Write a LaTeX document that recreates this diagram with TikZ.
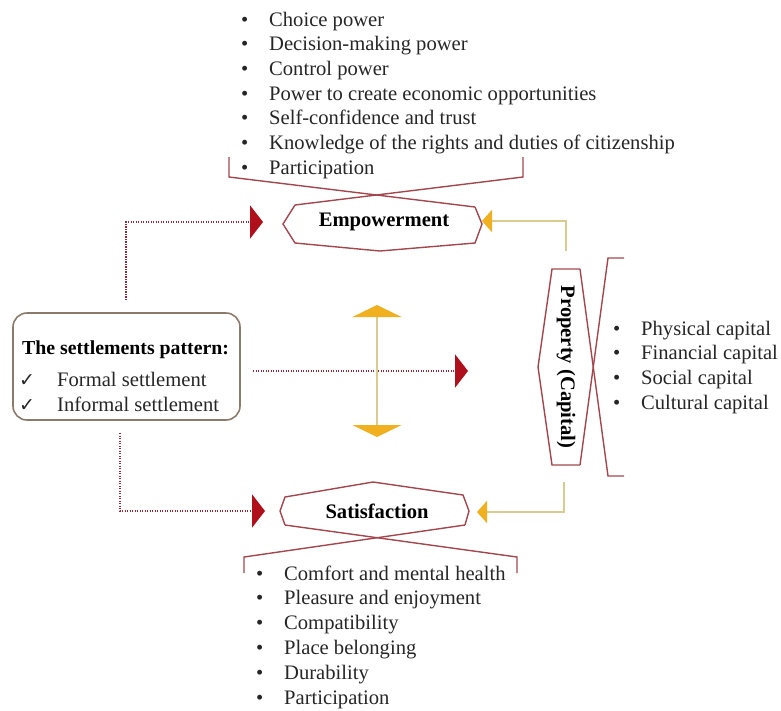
\documentclass[tikz,border=0pt]{standalone}
\usepackage{fontspec}
\setmainfont{Liberation Serif}
\newfontfamily\symfont{DejaVu Sans}
\usetikzlibrary{arrows.meta}
\definecolor{hexred}{HTML}{A5464E}
\definecolor{dotred}{HTML}{9E2436}
\definecolor{headred}{HTML}{B0101C}
\definecolor{ylline}{HTML}{DCCB8E}
\definecolor{ylhead}{HTML}{F0B020}
\definecolor{boxline}{HTML}{8C7B6B}
\definecolor{txt}{HTML}{262626}
\newcommand{\bul}{\llap{\makebox[28pt][l]{\textbullet}}}
\newcommand{\chk}{\llap{\makebox[38pt][l]{\fontsize{19}{19}\symfont ✓}}}
\begin{document}
\begin{tikzpicture}[x=1pt,y=-1pt,
  every node/.style={font=\fontsize{20.6}{24.7}\selectfont, text=txt, inner sep=0pt},
  item/.style={anchor=base west},
  label/.style={font=\fontsize{20.6}{24.7}\selectfont\bfseries, text=black},
  hexline/.style={draw=hexred, line width=1.4pt, line join=miter},
  redarrow/.style={draw=dotred, line width=2.6pt, dash pattern=on 1.4pt off 1.1pt,
     -{Triangle[length=13pt,width=33pt,color=headred]}},
  yarrow/.style={draw=ylline, line width=2.2pt,
     -{Triangle[length=10pt,width=22pt,color=ylhead]}},
  ydouble/.style={draw=ylline, line width=2.2pt,
     {Triangle[length=12pt,width=49pt,color=ylhead]}-{Triangle[length=12pt,width=49pt,color=ylhead]}},
  settlebox/.style={draw=boxline, line width=1.6pt, rounded corners=14pt}
]
\useasboundingbox (0,0) rectangle (781,710);

% ---------- top list ----------
\foreach \t [count=\i] in {Choice power, Decision-making power, Control power,
  Power to create economic opportunities, Self-confidence and trust,
  Knowledge of the rights and duties of citizenship, Participation}
  \node[item] (pw\i) at (269,{26+24.7*(\i-1)}) {\bul\t};

% ---------- bottom list ----------
\foreach \t [count=\i] in {Comfort and mental health, Pleasure and enjoyment,
  Compatibility, Place belonging, Durability, Participation}
  \node[item] (st\i) at (284,{580+24.8*(\i-1)}) {\bul\t};

% ---------- capital list ----------
\foreach \t [count=\i] in {Physical capital, Financial capital, Social capital, Cultural capital}
  \node[item] (cp\i) at (641,{335+24.8*(\i-1)}) {\bul\t};

% ---------- Empowerment ----------
\draw[hexline] (229,157) -- (229,177) -- (475,207);
\draw[hexline] (523,157) -- (523,177) -- (295,205);
\draw[hexline] (295,205) -- (283,224) -- (295,243) -- (380,251) -- (475,243) -- (482,224) -- (475,207);
\node[label] (emp) at (384,222) {Empowerment};

% ---------- Satisfaction ----------
\draw[hexline] (285,525) -- (280,511) -- (285,497) -- (373,482) -- (463,495) -- (469,511) -- (465,525);
\draw[hexline] (285,525) -- (517,557) -- (517,573);
\draw[hexline] (465,525) -- (244,557) -- (244,573);
\node[label] (sat) at (377,511) {Satisfaction};

% ---------- Property ----------
\draw[hexline] (580,269) -- (552,269) -- (538,367) -- (552,465) -- (580,465);
\draw[hexline] (580,269) -- (608,476) -- (624,476);
\draw[hexline] (580,465) -- (608,258) -- (624,258);
\node[label, rotate=-90] (prop) at (566,367) {Property (Capital)};

% ---------- settlements box ----------
\node[settlebox, minimum width=227pt, minimum height=107pt] (settle) at (126.5,366.5) {};
\node[item, font=\fontsize{19.8}{24}\selectfont\bfseries, text=black] (stitle) at (22,354) {The settlements pattern:};
\node[item] (f1) at (57,386) {\chk Formal settlement};
\node[item] (f2) at (57,411) {\chk Informal settlement};

% ---------- coordinates for connector ends ----------
\coordinate (r1s) at (126,300);
\coordinate (r1e) at (263,222);
\coordinate (r2s) at (253,371);
\coordinate (r2e) at (468,371);
\coordinate (r3s) at (120,433);
\coordinate (r3e) at (265,511);
\coordinate (y1s) at (566,251);
\coordinate (y1e) at (482,221);
\coordinate (y2s) at (564,482);
\coordinate (y2e) at (477,512);
\coordinate (dtop) at (377,305);
\coordinate (dbot) at (377,437);

% ---------- connectors ----------
\draw[redarrow] (r1s) |- (r1e);
\draw[redarrow] (r2s) -- (r2e);
\draw[redarrow] (r3s) |- (r3e);
\draw[yarrow] (y1s) |- (y1e);
\draw[yarrow] (y2s) |- (y2e);
\draw[ydouble] (dtop) -- (dbot);
\end{tikzpicture}
\end{document}
